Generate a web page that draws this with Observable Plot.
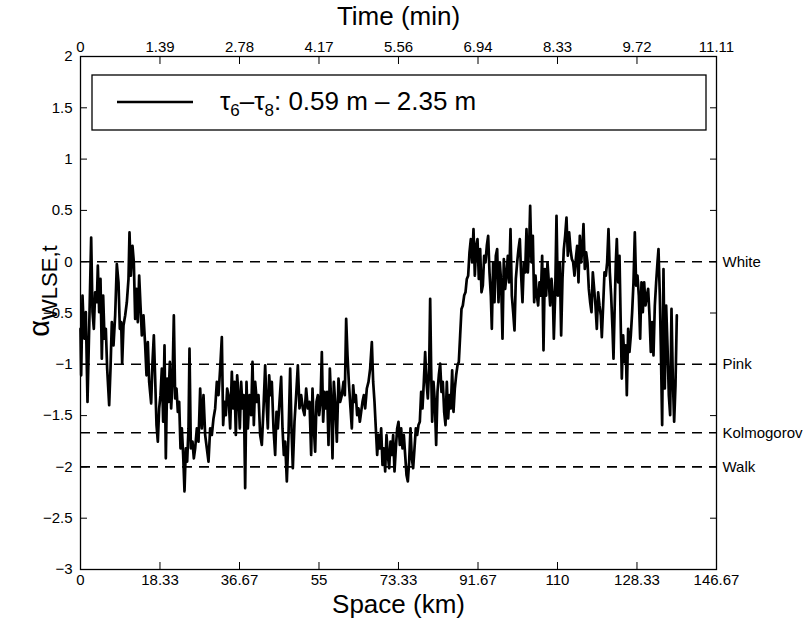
<!DOCTYPE html>
<html><head><meta charset="utf-8">
<script src="https://cdn.jsdelivr.net/npm/d3@7"></script>
<script src="https://cdn.jsdelivr.net/npm/@observablehq/plot@0.6"></script>
<style>body{margin:0;background:#fff;} #chart{width:806px;height:626px;}</style>
</head><body><div id="chart"></div>
<script>
// Space (km) of each sample
const spaceKm = [
0.000,0.154,0.308,0.461,0.692,0.923,1.230,1.614,1.999,2.460,
2.768,3.075,3.383,3.767,3.997,4.305,4.612,4.920,5.227,5.535,
5.842,6.150,6.611,6.919,7.226,7.611,7.995,8.379,8.763,9.071,
9.378,9.609,9.916,10.301,10.685,11.070,11.300,11.608,11.992,12.299,
12.607,12.914,13.222,13.529,13.837,14.144,14.529,14.913,15.220,15.528,
15.835,16.297,16.604,16.912,17.219,17.527,17.834,18.142,18.449,18.757,
19.064,19.372,19.679,19.986,20.294,20.601,20.909,21.216,21.524,21.831,
22.139,22.446,22.754,23.061,23.369,23.676,23.984,24.291,24.599,24.906,
25.137,25.444,25.829,26.136,26.444,26.828,27.212,27.597,27.981,28.365,
28.750,29.134,29.518,29.903,30.287,30.671,31.056,31.440,31.824,32.209,
32.593,32.901,33.208,33.516,33.823,34.131,34.515,34.899,35.207,35.514,
35.822,36.129,
36.437,36.744,37.052,37.359,37.667,37.974,38.282,38.589,38.974,39.358,
39.666,39.973,40.281,40.665,41.049,41.434,41.818,42.202,42.587,42.894,
43.202,43.509,43.817,44.124,44.508,44.893,45.200,45.508,45.892,46.276,
46.584,46.891,47.199,47.583,47.968,48.352,48.659,48.967,49.351,49.736,
50.120,50.504,50.889,51.273,51.657,52.042,52.426,52.810,53.195,53.502,
53.810,54.117,54.425,54.732,55.040,55.347,55.655,55.962,56.270,56.577,
56.885,57.192,57.500,57.807,58.114,58.422,58.729,59.114,59.498,59.882,
60.267,60.651,60.959,61.266,61.574,61.881,62.265,62.573,62.880,63.188,
63.495,63.803,64.110,64.418,64.725,65.033,65.340,65.648,66.032,66.416,
66.801,67.185,67.493,67.800,68.108,68.415,68.723,69.030,69.338,69.645,
69.953,70.260,70.568,70.875,71.183,71.490,71.798,72.105,72.413,72.720,
73.028,
73.334,73.641,73.949,74.256,74.564,74.871,75.179,75.486,75.794,76.101,
76.409,76.716,77.024,77.331,77.639,77.946,78.254,78.561,78.869,79.176,
79.484,79.791,80.099,80.406,80.637,80.867,81.098,81.405,81.713,82.020,
82.328,82.635,82.943,83.250,83.558,83.865,84.173,84.480,84.788,85.095,
85.403,85.710,86.018,86.325,86.633,86.940,87.248,87.555,87.862,88.170,
88.477,88.785,89.092,89.400,89.707,90.015,90.322,90.630,90.937,91.245,
91.552,91.860,92.167,92.475,92.782,93.090,93.397,93.705,94.012,94.320,
94.627,94.858,95.165,95.473,95.780,96.088,96.395,96.703,97.010,97.318,
97.625,97.933,98.240,98.548,98.855,99.163,99.470,99.778,100.085,100.393,
100.700,101.007,101.315,101.622,101.930,102.237,102.545,102.852,103.160,103.467,
103.698,104.005,104.313,104.620,104.928,105.235,105.543,105.850,106.158,106.465,
106.773,107.080,107.388,107.695,108.003,108.310,108.618,108.925,109.156,109.463,
109.771,110.078,
110.537,110.845,111.152,111.460,111.767,112.075,112.382,112.690,112.997,113.305,
113.612,113.920,114.227,114.535,114.842,115.150,115.457,115.765,115.995,116.303,
116.610,116.918,117.225,117.533,117.840,118.148,118.455,118.763,119.070,119.378,
119.685,119.993,120.223,120.531,120.838,121.146,121.453,121.761,122.068,122.375,
122.683,122.914,123.144,123.452,123.682,123.990,124.297,124.605,124.835,125.143,
125.450,125.758,125.988,126.296,126.603,126.911,127.218,127.526,127.833,128.141,
128.448,128.756,129.063,129.371,129.678,129.986,130.293,130.601,130.908,131.216,
131.523,131.831,132.138,132.446,132.753,133.061,133.291,133.599,133.829,134.137,
134.444,134.752,135.059,135.367,135.674,135.982,136.289,136.597,136.904,137.212,
137.519
];
// alpha_WLSE,t of each sample
const alphaWLSE = [
-0.654,-1.107,-0.718,-0.330,-0.589,-0.751,-0.492,-1.366,-0.654,0.236,
-0.492,-0.654,-0.298,-0.395,-0.039,-0.492,-0.168,-0.945,-0.330,-0.751,
-0.654,-1.042,-1.398,-1.042,-0.589,-0.816,-0.524,-0.023,-0.201,-0.654,
-0.589,-0.994,-0.621,-0.524,-0.395,-0.168,0.285,-0.136,0.155,-0.006,
-0.557,-0.265,-0.589,-0.136,-0.427,-0.718,-0.524,-0.816,-1.107,-0.783,
-1.172,-1.382,-0.977,-0.718,-1.139,-1.592,-1.754,-1.430,-1.301,-1.042,
-1.560,-0.816,-1.916,-1.139,-1.366,-0.977,-1.430,-1.172,-0.524,-1.333,
-1.236,-1.463,-1.366,-1.819,-1.625,-1.883,-2.239,-1.819,-1.948,-1.625,
-0.848,-1.819,-1.754,-1.916,-1.819,-1.625,-1.754,-1.236,-1.625,-1.301,
-1.689,-1.819,-1.948,-1.625,-1.689,-1.528,-1.430,-1.172,-1.301,-1.042,
-0.735,-1.592,-1.366,-1.495,-1.236,-1.301,-1.625,-1.074,-1.430,-1.172,
-1.689,-1.107,
-1.301,-1.625,-1.172,-1.430,-1.301,-2.207,-1.172,-1.625,-1.301,-1.495,
-0.977,-1.592,-1.172,-1.366,-1.301,-1.689,-1.786,-1.430,-1.010,-1.366,
-1.625,-1.107,-1.301,-1.172,-1.625,-1.883,-1.463,-1.625,-1.366,-1.123,
-1.625,-1.883,-1.754,-2.142,-1.689,-1.042,-1.625,-2.013,-1.560,-1.301,
-1.010,-1.430,-1.301,-1.430,-1.495,-1.236,-1.430,-1.366,-1.883,-1.236,
-1.625,-1.851,-1.366,-1.301,-1.495,-1.366,-0.880,-1.560,-1.269,-1.430,
-1.269,-1.786,-1.042,-1.366,-1.916,-1.172,-1.366,-1.754,-1.139,-1.366,
-1.301,-1.172,-1.301,-0.557,-0.913,-1.172,-1.430,-1.625,-1.204,-1.366,
-1.301,-1.495,-1.430,-1.560,-1.463,-1.366,-1.301,-1.430,-1.236,-1.172,
-1.042,-0.783,-1.172,-1.366,-1.625,-1.883,-1.689,-1.819,-1.625,-1.981,
-1.819,-2.045,-1.689,-1.883,-2.013,-1.754,-1.883,-1.689,-2.045,-1.819,
-1.625,
-1.560,-1.786,-1.625,-1.819,-1.689,-1.883,-2.078,-2.142,-1.948,-1.625,
-1.916,-2.013,-1.819,-1.625,-1.689,-1.592,-1.560,-1.269,-1.430,-1.172,
-0.880,-1.172,-1.333,-1.042,-0.362,-1.042,-1.560,-1.172,-1.366,-1.786,
-1.269,-1.107,-0.994,-1.269,-1.172,-1.463,-1.592,-1.172,-1.528,-1.301,
-1.430,-1.058,-1.463,-1.236,-1.107,-1.010,-0.977,-0.718,-0.460,-0.427,
-0.330,-0.298,-0.168,-0.136,0.091,0.220,-0.006,0.317,-0.136,0.155,
0.220,-0.168,0.123,-0.298,-0.233,0.058,-0.006,0.155,0.252,-0.104,
-0.330,-0.654,-0.006,-0.395,0.058,0.123,-0.395,-0.006,-0.201,-0.751,
0.026,-0.265,-0.136,0.058,-0.201,0.317,-0.330,-0.492,-0.670,-0.168,
-0.006,0.123,0.220,-0.136,-0.395,-0.006,-0.104,0.317,-0.104,0.155,
0.544,-0.006,0.252,-0.395,-0.136,-0.330,-0.427,-0.201,-0.330,0.058,
-0.864,-0.071,-0.330,-0.006,-0.201,-0.427,-0.168,-0.330,-0.751,-0.330,
0.447,-0.330,
-0.006,-0.718,-0.168,0.123,0.252,0.430,0.058,0.285,0.123,0.026,
-0.006,-0.136,0.026,0.155,-0.201,0.252,-0.006,0.155,0.366,-0.071,
0.091,-0.006,-0.265,-0.395,-0.492,-0.104,-0.265,-0.427,-0.654,-0.298,
-0.427,-0.524,-0.735,-0.427,-0.104,-0.136,-0.006,0.317,-0.104,-0.330,
-0.654,-0.945,-0.524,-0.006,0.220,-0.201,0.058,-0.654,-1.139,-0.718,
-0.977,-0.816,-1.301,-0.654,-0.880,-0.718,-0.492,-0.201,0.285,-0.233,
-0.136,-0.330,-0.751,-0.201,-0.492,-0.201,-0.427,-0.330,-0.265,-0.524,
-0.880,-0.589,-0.913,-0.427,-0.201,-0.006,0.123,-0.330,-0.816,-1.592,
-0.071,-1.236,-0.427,-0.816,-1.301,-1.495,-0.460,-1.139,-1.560,-1.204,
-0.524
];
const spaceTicks = [0, 18.33, 36.67, 55, 73.33, 91.67, 110, 128.33, 146.67];
const spaceTickLabels = ["0", "18.33", "36.67", "55", "73.33", "91.67", "110", "128.33", "146.67"];
const timeTickLabels = ["0", "1.39", "2.78", "4.17", "5.56", "6.94", "8.33", "9.72", "11.11"];
const alphaTicks = [2, 1.5, 1, 0.5, 0, -0.5, -1, -1.5, -2, -2.5, -3];
const alphaTickLabels = ["2", "1.5", "1", "0.5", "0", "\u22120.5", "\u22121", "\u22121.5", "\u22122", "\u22122.5", "\u22123"];
const refNames = ["White", "Pink", "Kolmogorov", "Walk"];
const refValues = [0, -1, -5/3, -2];
const xTitle = "Space (km)";
const topTitle = "Time (min)";
const legendParts = ["\u03c4", "6", "\u2013\u03c4", "8", ": 0.59 m \u2013 2.35 m"];
const yTitleParts = ["\u03b1", "WLSE,t"];

const series = spaceKm.map((s, i) => ({s, a: alphaWLSE[i]}));
const refs = refNames.map((name, i) => ({name, value: refValues[i]}));
const fmt = (ticks, labels) => d => labels[ticks.indexOf(d)];

const plot = Plot.plot({
  width: 806, height: 626,
  marginLeft: 80, marginRight: 90, marginTop: 56, marginBottom: 57,
  x: {domain: [0, 146.67]},
  y: {domain: [-3, 2]},
  style: {fontFamily: "Liberation Sans, Arial, sans-serif", fontSize: "15px", color: "black", background: "white", overflow: "visible"},
  marks: [
    Plot.ruleY(refs, {y: "value", stroke: "black", strokeWidth: 1.6, strokeDasharray: "10,7"}),
    Plot.line(series, {x: "s", y: "a", stroke: "black", strokeWidth: 2.7}),
    Plot.frame({stroke: "black", strokeWidth: 1.3}),
    Plot.axisX(spaceTicks, {anchor: "bottom", tickSize: -7, tickPadding: 12, tickFormat: fmt(spaceTicks, spaceTickLabels), label: null}),
    Plot.axisX(spaceTicks, {anchor: "top", tickSize: -7, tickPadding: 12, tickFormat: fmt(spaceTicks, timeTickLabels), label: null}),
    Plot.axisY(alphaTicks, {anchor: "left", tickSize: -7, tickPadding: 15, tickFormat: fmt(alphaTicks, alphaTickLabels), label: null}),
    Plot.axisY(alphaTicks, {anchor: "right", tickSize: -7, tickFormat: () => "", label: null}),
    Plot.text(refs, {y: "value", text: "name", frameAnchor: "right", dx: 6, textAnchor: "start", fontSize: 15}),
    Plot.text([xTitle], {text: d => d, frameAnchor: "bottom", dy: 43, fontSize: 26}),
    Plot.text([topTitle], {text: d => d, frameAnchor: "top", dy: -50, fontSize: 26})
  ]
});

const svg = d3.select(plot);
const lg = svg.append("g");
lg.append("rect").attr("x", 92).attr("y", 75).attr("width", 614).attr("height", 55)
  .attr("fill", "white").attr("stroke", "black").attr("stroke-width", 1.3);
lg.append("line").attr("x1", 117).attr("x2", 193).attr("y1", 102).attr("y2", 102)
  .attr("stroke", "black").attr("stroke-width", 2.4);
const lt = lg.append("text").attr("x", 220).attr("y", 110).attr("font-size", 26)
  .attr("text-anchor", "start").attr("fill", "black");
lt.append("tspan").text(legendParts[0]);
lt.append("tspan").attr("font-size", 17).attr("dy", 6).text(legendParts[1]);
lt.append("tspan").attr("dy", -6).text(legendParts[2]);
lt.append("tspan").attr("font-size", 17).attr("dy", 6).text(legendParts[3]);
lt.append("tspan").attr("dy", -6).text(legendParts[4]);

const yt = svg.append("text").attr("transform", "translate(49,291) rotate(-90)")
  .attr("text-anchor", "middle").attr("font-size", 29).attr("fill", "black");
yt.append("tspan").text(yTitleParts[0]);
yt.append("tspan").attr("font-size", 22).attr("dy", 8).text(yTitleParts[1]);

document.getElementById("chart").appendChild(plot);
</script>
</body></html>
